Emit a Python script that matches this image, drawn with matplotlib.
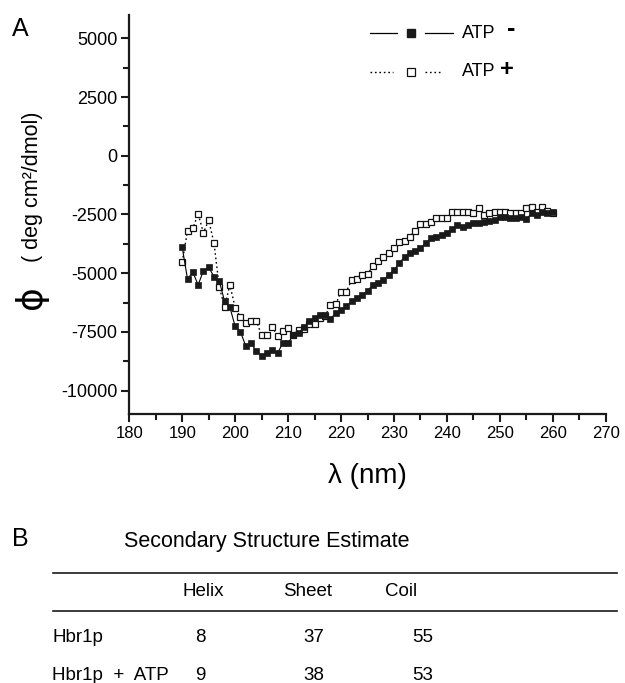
import matplotlib
matplotlib.use("Agg")
import matplotlib.pyplot as plt
from matplotlib.lines import Line2D
from matplotlib.ticker import MultipleLocator

plt.rcParams['font.family'] = ['Liberation Sans', 'DejaVu Sans']

wavelength = list(range(190, 261))

atp_minus = [
    -3900, -5250, -4950, -5500, -4900, -4750, -5150, -5330, -6200, -6450,
    -7270, -7500, -8100, -7980, -8320, -8540, -8400, -8280, -8420, -7970,
    -7960, -7650, -7550, -7300, -7050, -6900, -6780, -6800, -6950, -6700,
    -6550, -6400, -6200, -6070, -5930, -5750, -5500, -5430, -5290, -5080,
    -4860, -4580, -4300, -4150, -4040, -3940, -3720, -3510, -3470, -3370,
    -3270, -3130, -2950, -3020, -2940, -2870, -2850, -2800, -2760, -2730,
    -2600, -2620, -2660, -2650, -2620, -2700, -2450, -2520, -2380, -2450,
    -2400,
]

atp_plus = [
    -4520, -3200, -3090, -2470, -3280, -2740, -3720, -5600, -6430, -5500,
    -6470, -6880, -7140, -7050, -7050, -7640, -7640, -7280, -7680, -7450,
    -7350, -7630, -7400, -7380, -7170, -7150, -6920, -6830, -6360, -6330,
    -5790, -5790, -5290, -5260, -5080, -5050, -4700, -4470, -4300, -4120,
    -3940, -3660, -3650, -3440, -3200, -2900, -2900, -2800, -2660, -2660,
    -2660, -2380, -2380, -2380, -2380, -2450, -2230, -2520, -2420, -2380,
    -2380, -2380, -2450, -2450, -2450, -2230, -2200, -2380, -2190, -2330,
    -2420,
]

x_ticks = [180, 190, 200, 210, 220, 230, 240, 250, 260, 270]
y_ticks = [5000, 2500, 0, -2500, -5000, -7500, -10000]

table_title = "Secondary Structure Estimate"
table_cols = ["Helix", "Sheet", "Coil"]
table_rows = ["Hbr1p", "Hbr1p  +  ATP"]
helix = [8, 9]
sheet = [37, 38]
coil = [55, 53]

W, H = 625, 683
fig = plt.figure(figsize=(W / 100, H / 100), dpi=100)


def fx(x):
    return x / W


def fy(y):
    return 1 - y / H


ax = fig.add_axes([fx(129.3), fy(414), fx(605.7) - fx(129.3), fy(15) - fy(414)])

ax.plot(wavelength, atp_plus, linestyle=(0, (1.2, 2.0)), color='black', lw=1.0,
        marker='s', markersize=4.6, markerfacecolor='white',
        markeredgecolor='#111111', markeredgewidth=0.9, zorder=2)
ax.plot(wavelength, atp_minus, linestyle='-', color='black', lw=0.8,
        marker='s', markersize=4.6, markerfacecolor='#1a1a1a',
        markeredgecolor='#1a1a1a', markeredgewidth=0.5, zorder=3)

ax.set_xlim(180, 270)
ax.set_ylim(-11000, 6000)
ax.set_xticks(x_ticks)
ax.set_yticks(y_ticks)
ax.xaxis.set_minor_locator(MultipleLocator(5))
ax.yaxis.set_minor_locator(MultipleLocator(1250))
ax.set_yticklabels([str(v) for v in y_ticks])
for s in ['top', 'right']:
    ax.spines[s].set_visible(False)
for s in ['left', 'bottom']:
    ax.spines[s].set_linewidth(1.6)
    ax.spines[s].set_color('#1a1a1a')
ax.tick_params(axis='both', which='major', length=6, width=1.5, color='#1a1a1a')
ax.tick_params(axis='both', which='minor', length=4.5, width=1.5, color='#1a1a1a')
ax.tick_params(axis='y', labelsize=13, pad=2.5)
ax.tick_params(axis='x', labelsize=12, pad=2.5)

# axis labels
fig.text(fx(31), fy(297), "ϕ", rotation=90, fontsize=26, ha='center', va='center',
         family=['DejaVu Sans'])
fig.text(fx(33), fy(187), "( deg cm²/dmol)", rotation=90, fontsize=15.5,
         ha='center', va='center')
fig.text(fx(367), fy(476), "λ (nm)", fontsize=20, ha='center', va='center')

# panel labels
fig.text(fx(12), fy(29), "A", fontsize=18, ha='left', va='center')
fig.text(fx(12), fy(539), "B", fontsize=18, ha='left', va='center')

# legend
ly1, ly2 = 33, 72
fig.add_artist(Line2D([fx(370), fx(397)], [fy(ly1), fy(ly1)], color='black', lw=0.9))
fig.add_artist(Line2D([fx(425), fx(453)], [fy(ly1), fy(ly1)], color='black', lw=0.9))
fig.add_artist(Line2D([fx(411)], [fy(ly1)], marker='s', markersize=6,
                      markerfacecolor='#1a1a1a', markeredgecolor='#1a1a1a', linestyle='none'))
fig.text(fx(462), fy(ly1), "ATP", fontsize=13, ha='left', va='center')
fig.text(fx(507), fy(29), "-", fontsize=18, fontweight='bold', ha='left', va='center')

fig.add_artist(Line2D([fx(370), fx(393)], [fy(ly2), fy(ly2)], color='black', lw=1.0,
                      linestyle=(0, (1.2, 2.0))))
fig.add_artist(Line2D([fx(425), fx(442)], [fy(ly2), fy(ly2)], color='black', lw=1.0,
                      linestyle=(0, (1.2, 2.0))))
fig.add_artist(Line2D([fx(411)], [fy(ly2)], marker='s', markersize=5.5,
                      markerfacecolor='white', markeredgecolor='#111111',
                      markeredgewidth=0.9, linestyle='none'))
fig.text(fx(462), fy(ly2), "ATP", fontsize=13, ha='left', va='center')
fig.text(fx(500), fy(70), "+", fontsize=17, fontweight='bold', ha='left', va='center')

# table
fig.text(fx(267), fy(541), table_title, fontsize=15.5, ha='center', va='center')
fig.add_artist(Line2D([fx(53), fx(617)], [fy(573), fy(573)], color='#1a1a1a', lw=1.2))
fig.add_artist(Line2D([fx(53), fx(617)], [fy(611), fy(611)], color='#1a1a1a', lw=1.2))
col_x = [203, 308, 401]
val_x = [200, 314, 423]
for c, x in zip(table_cols, col_x):
    fig.text(fx(x), fy(592), c, fontsize=13.5, ha='center', va='center')
row_y = [637, 675]
for i, (r, y) in enumerate(zip(table_rows, row_y)):
    fig.text(fx(52), fy(y), r, fontsize=13.5, ha='left', va='center')
    for vals, x in zip([helix, sheet, coil], val_x):
        fig.text(fx(x), fy(y), str(vals[i]), fontsize=13.5, ha='center', va='center')

fig.savefig("out.png", dpi=100)
